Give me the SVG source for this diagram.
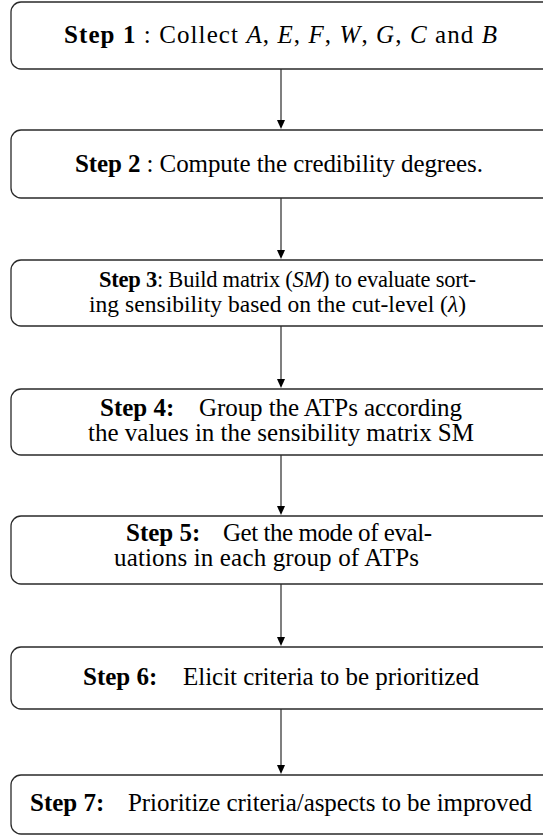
<svg xmlns="http://www.w3.org/2000/svg" width="543" height="836" viewBox="0 0 543 836">
<defs>
<style>
.box{fill:#fff;stroke:#2a2a2a;stroke-width:1.3}
text{font-family:'Liberation Serif','DejaVu Serif',serif;font-size:25px;fill:#000}
.b{font-weight:bold}
.i{font-style:italic}
.c{stroke:#555;stroke-width:1.5;fill:none}
.h{fill:#000}
</style>
</defs>
<rect width="543" height="836" fill="#fff"/>
<g id="connectors">
<line class="c" x1="281" y1="69" x2="281" y2="122"/>
<path class="h" d="M277,120 L285,120 L281,129 z"/>
<line class="c" x1="281" y1="198" x2="281" y2="252"/>
<path class="h" d="M277,250 L285,250 L281,259 z"/>
<line class="c" x1="281" y1="326" x2="281" y2="381"/>
<path class="h" d="M277,379 L285,379 L281,388 z"/>
<line class="c" x1="281" y1="455" x2="281" y2="508"/>
<path class="h" d="M277,506 L285,506 L281,515 z"/>
<line class="c" x1="281" y1="584" x2="281" y2="639"/>
<path class="h" d="M277,637 L285,637 L281,646 z"/>
<line class="c" x1="281" y1="709" x2="281" y2="767"/>
<path class="h" d="M277,765 L285,765 L281,774 z"/>
</g>
<g id="step1">
<rect class="box" x="11" y="2" width="545" height="67" rx="10"/>
<text x="64" y="43" textLength="433" lengthAdjust="spacing"><tspan class="b">Step 1</tspan> : Collect <tspan class="i">A</tspan>, <tspan class="i">E</tspan>, <tspan class="i">F</tspan>, <tspan class="i">W</tspan>, <tspan class="i">G</tspan>, <tspan class="i">C</tspan> and <tspan class="i">B</tspan></text>
</g>
<g id="step2">
<rect class="box" x="11" y="130" width="545" height="68" rx="10"/>
<text x="75" y="172" textLength="408" lengthAdjust="spacing"><tspan class="b">Step 2</tspan> : Compute the credibility degrees.</text>
</g>
<g id="step3">
<rect class="box" x="11" y="260" width="545" height="66" rx="10"/>
<text x="99" y="287" style="font-size:22.5px" textLength="377" lengthAdjust="spacing"><tspan class="b">Step 3</tspan>: Build matrix (<tspan class="i">SM</tspan>) to evaluate sort-</text>
<text x="89" y="312" style="font-size:23.5px" textLength="377" lengthAdjust="spacing">ing sensibility based on the cut-level (<tspan class="i">λ</tspan>)</text>
</g>
<g id="step4">
<rect class="box" x="11" y="389" width="545" height="66" rx="10"/>
<text class="b" x="100" y="416">Step 4:</text>
<text x="199" y="416" textLength="263" lengthAdjust="spacing">Group the ATPs according</text>
<text x="88" y="441" textLength="386" lengthAdjust="spacing">the values in the sensibility matrix SM</text>
</g>
<g id="step5">
<rect class="box" x="11" y="516" width="545" height="68" rx="10"/>
<text class="b" x="126" y="541">Step 5:</text>
<text x="223" y="541" textLength="209" lengthAdjust="spacing">Get the mode of eval-</text>
<text x="114" y="566" textLength="305" lengthAdjust="spacing">uations in each group of ATPs</text>
</g>
<g id="step6">
<rect class="box" x="11" y="647" width="545" height="62" rx="10"/>
<text class="b" x="83" y="685">Step 6:</text>
<text x="183" y="685" textLength="296" lengthAdjust="spacing">Elicit criteria to be prioritized</text>
</g>
<g id="step7">
<rect class="box" x="11" y="775" width="545" height="59" rx="10"/>
<text class="b" x="30" y="811">Step 7:</text>
<text x="128" y="811" textLength="404" lengthAdjust="spacing">Prioritize criteria/aspects to be improved</text>
</g>
</svg>
